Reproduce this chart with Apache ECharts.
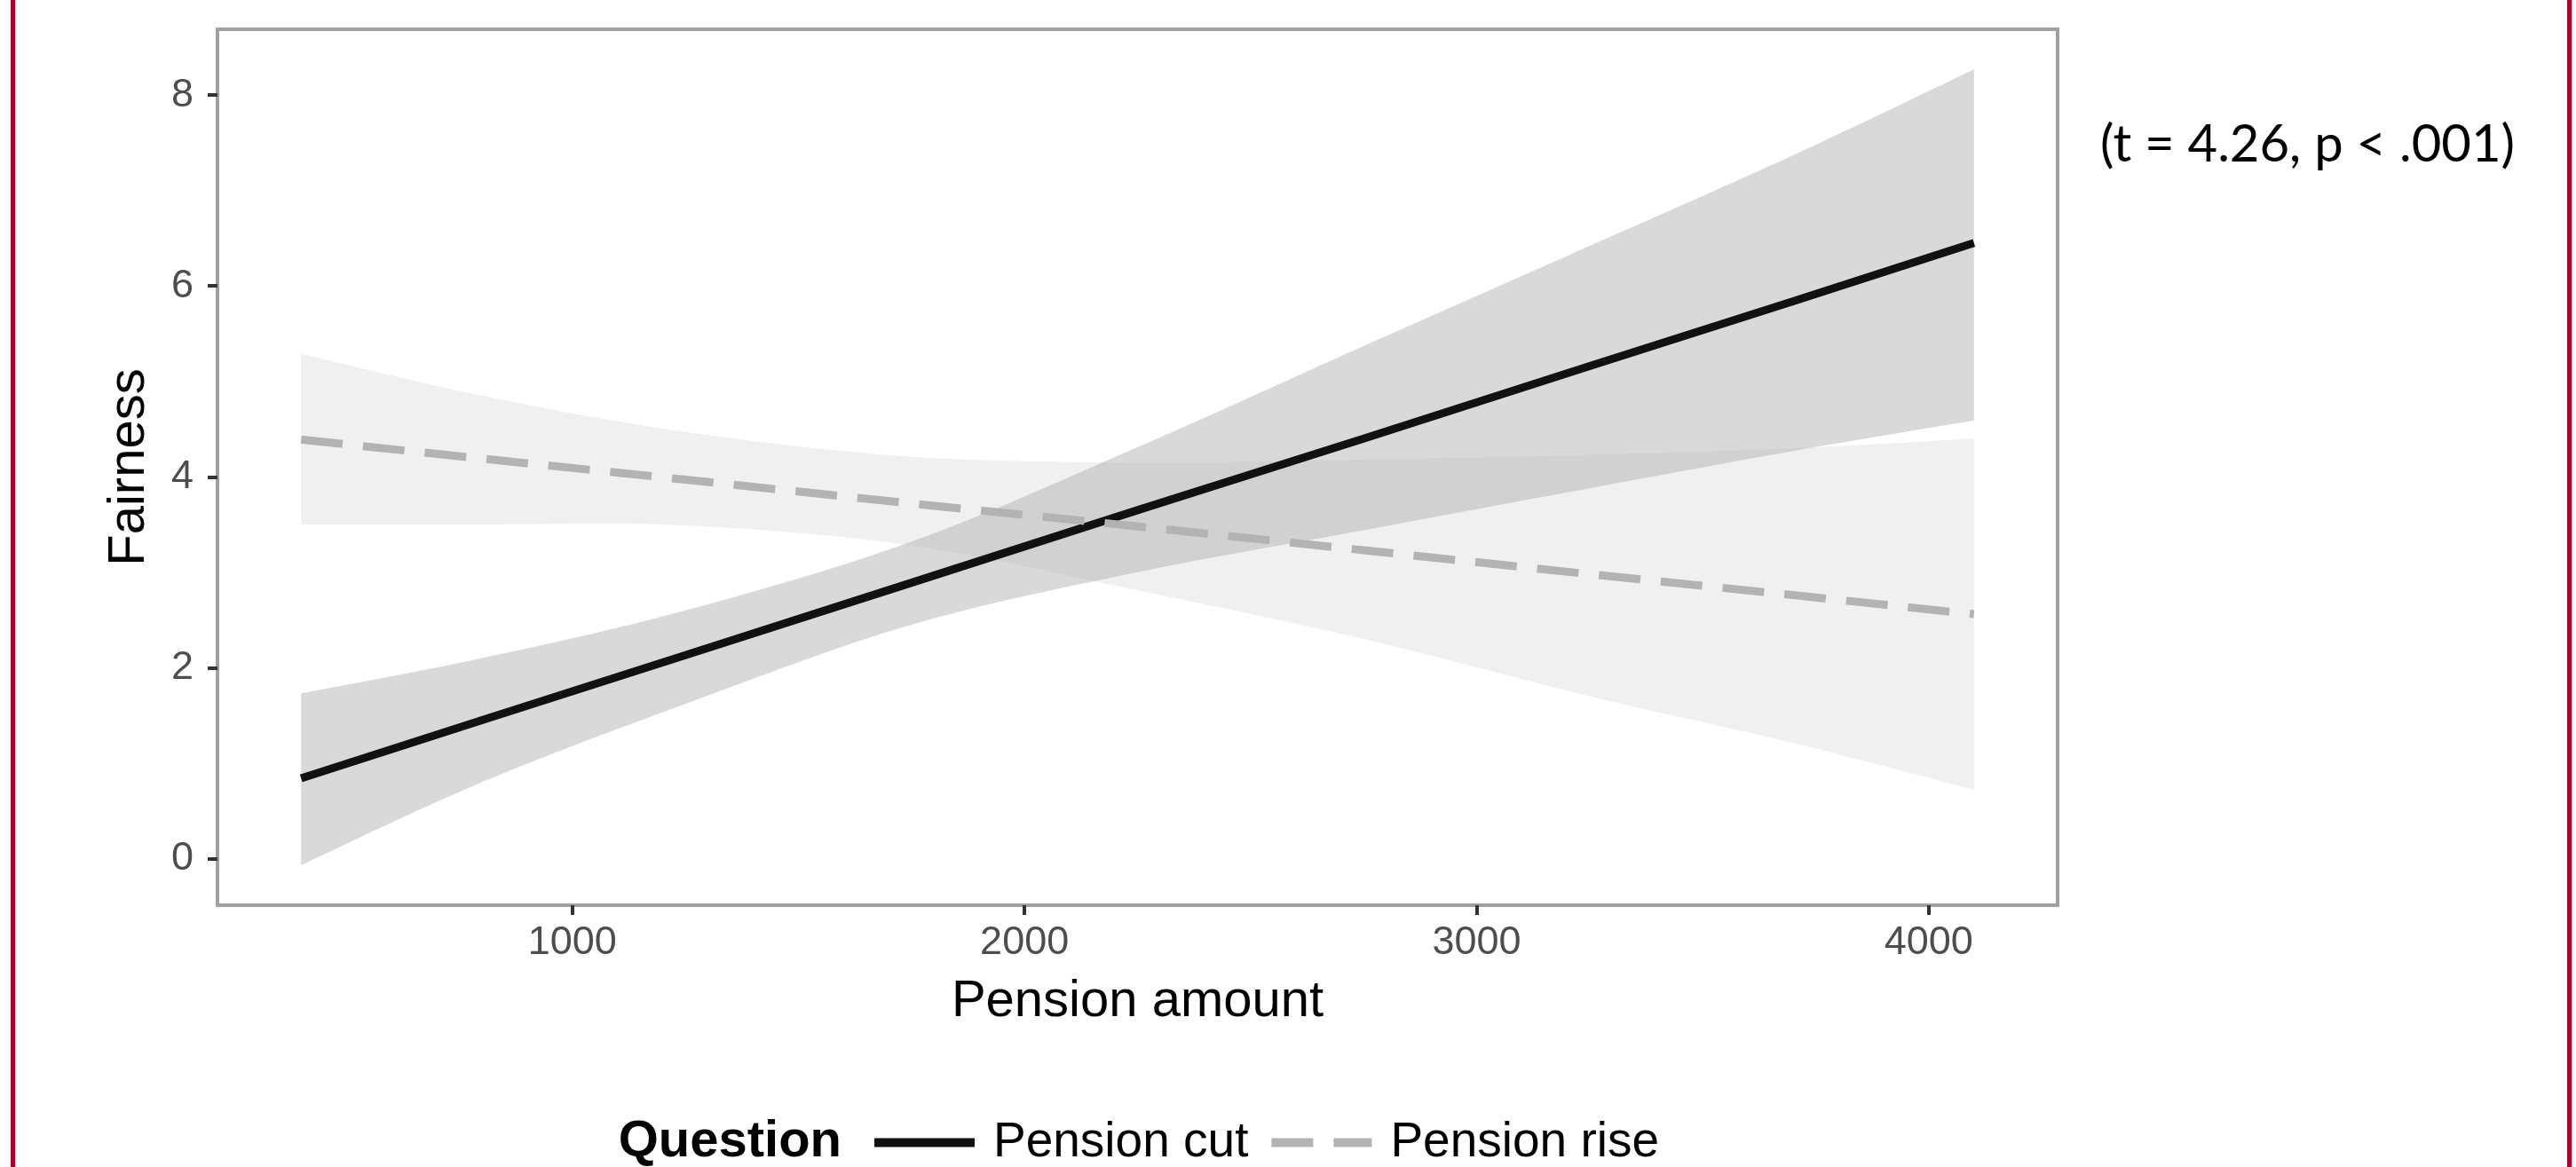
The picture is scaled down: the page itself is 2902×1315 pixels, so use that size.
<!DOCTYPE html>
<html>
<head>
<meta charset="utf-8">
<script src="https://cdn.jsdelivr.net/npm/echarts@6/dist/echarts.min.js"></script>
<style>
  html, body { margin: 0; padding: 0; background: #ffffff; }
  #chart { width: 2902px; height: 1315px; }
</style>
</head>
<body>
<div id="chart"></div>
<script>
// Pension amount at which the fitted values and confidence bands are given
const pensionAmount = [400, 800, 1250, 1750, 2250, 2750, 3250, 3700, 4100];

// "Pension cut" question: fitted fairness and its confidence band
const cutFit   = [0.84, 1.45, 2.13, 2.89, 3.65, 4.40, 5.16, 5.84, 6.45];
const cutUpper = [1.73, 2.10, 2.60, 3.32, 4.31, 5.37, 6.42, 7.37, 8.27];
const cutLower = [-0.07, 0.80, 1.62, 2.45, 3.00, 3.44, 3.88, 4.27, 4.59];

// "Pension rise" question: fitted fairness and its confidence band
const riseFit   = [4.39, 4.19, 3.97, 3.72, 3.48, 3.23, 2.98, 2.76, 2.56];
const riseUpper = [5.29, 4.85, 4.47, 4.21, 4.15, 4.18, 4.23, 4.30, 4.40];
const riseLower = [3.50, 3.50, 3.49, 3.28, 2.81, 2.30, 1.70, 1.21, 0.72];

// Axis ticks and texts
const xTicks = [1000, 2000, 3000, 4000];
const yTicks = [0, 2, 4, 6, 8];
const xTitle = 'Pension amount';
const yTitle = 'Fairness';
const legendTitle = 'Question';
const seriesNames = ['Pension cut', 'Pension rise'];
const statText = '(t = 4.26, p < .001)';

const pairs = (xs, ys) => xs.map((x, i) => [x, ys[i]]);

const FONT = '"Liberation Sans", Arial, Helvetica, sans-serif';

// Smooth an edge given in pixel coordinates (Catmull-Rom style cubic segments,
// flattened into short straight pieces for the polygon outline).
function smoothEdge(pts, steps) {
  const out = [pts[0]];
  for (let i = 0; i < pts.length - 1; i++) {
    const p0 = pts[Math.max(i - 1, 0)], p1 = pts[i], p2 = pts[i + 1], p3 = pts[Math.min(i + 2, pts.length - 1)];
    const c1 = [p1[0] + (p2[0] - p0[0]) / 6, p1[1] + (p2[1] - p0[1]) / 6];
    const c2 = [p2[0] - (p3[0] - p1[0]) / 6, p2[1] - (p3[1] - p1[1]) / 6];
    for (let s = 1; s <= steps; s++) {
      const t = s / steps, u = 1 - t;
      out.push([
        u * u * u * p1[0] + 3 * u * u * t * c1[0] + 3 * u * t * t * c2[0] + t * t * t * p2[0],
        u * u * u * p1[1] + 3 * u * u * t * c1[1] + 3 * u * t * t * c2[1] + t * t * t * p2[1]
      ]);
    }
  }
  return out;
}

// Confidence band as a filled polygon between the upper and lower edges
function bandSeries(id, lower, upper, fill) {
  return {
    type: 'custom', name: id, silent: true,
    data: pairs(pensionAmount, upper),
    encode: { x: 0, y: 1 },
    renderItem: function (params, api) {
      if (params.dataIndex !== 0) return null;
      const up = pensionAmount.map((x, i) => api.coord([x, upper[i]]));
      const lo = pensionAmount.map((x, i) => api.coord([x, lower[i]]));
      const points = smoothEdge(up, 16).concat(smoothEdge(lo.reverse(), 16));
      return { type: 'polygon', shape: { points: points }, style: { fill: fill, stroke: null } };
    }
  };
}

const chart = echarts.init(document.getElementById('chart'), null, { renderer: 'canvas' });

chart.setOption({
  backgroundColor: '#ffffff',
  animation: false,
  grid: {
    left: 245, top: 33, width: 2073, height: 987,
    show: true, borderColor: '#a0a0a0', borderWidth: 4, backgroundColor: 'transparent'
  },
  xAxis: {
    type: 'value', min: 215, max: 4285,
    name: xTitle, nameLocation: 'middle', nameGap: 80,
    nameTextStyle: { fontFamily: FONT, fontSize: 58, color: '#000000' },
    axisLine: { show: false, onZero: false },
    axisTick: { show: true, length: 11, customValues: xTicks, lineStyle: { color: '#333333', width: 4 } },
    axisLabel: {
      customValues: xTicks, margin: 20, fontFamily: FONT, fontSize: 45, color: '#4d4d4d',
      formatter: v => String(v)
    },
    splitLine: { show: false }
  },
  yAxis: {
    type: 'value', min: -0.49, max: 8.69,
    name: yTitle, nameLocation: 'middle', nameGap: 70, nameRotate: 90,
    nameTextStyle: { fontFamily: FONT, fontSize: 58, color: '#000000' },
    axisLine: { show: false, onZero: false },
    axisTick: { show: true, length: 11, customValues: yTicks, lineStyle: { color: '#333333', width: 4 } },
    axisLabel: {
      customValues: yTicks, margin: 27, fontFamily: FONT, fontSize: 45, color: '#4d4d4d',
      formatter: v => String(v)
    },
    splitLine: { show: false }
  },
  legend: {
    data: seriesNames,
    left: 975, top: 1255,
    itemWidth: 113, itemHeight: 30, itemGap: 21,
    lineStyle: { width: 10 },
    itemStyle: { opacity: 0 },
    textStyle: { fontFamily: FONT, fontSize: 55, color: '#000000', padding: [0, 0, 0, 16] },
    selectedMode: false
  },
  series: [
    bandSeries('cut-band', cutLower, cutUpper, 'rgba(0,0,0,0.15)'),
    {
      type: 'line', name: seriesNames[0],
      data: pairs(pensionAmount, cutFit),
      showSymbol: false, symbol: 'none', silent: true,
      lineStyle: { color: '#111111', width: 9, type: 'solid', cap: 'butt' },
      itemStyle: { color: '#111111' }
    },
    bandSeries('rise-band', riseLower, riseUpper, 'rgba(179,179,179,0.2)'),
    {
      type: 'line', name: seriesNames[1],
      data: pairs(pensionAmount, riseFit),
      showSymbol: false, symbol: 'none', silent: true,
      lineStyle: { color: '#b3b3b3', width: 9, type: [47, 23], cap: 'butt' },
      itemStyle: { color: '#b3b3b3' }
    }
  ],
  graphic: [
    // side rules of the figure panel
    { type: 'rect', left: 12, top: 0, shape: { width: 5, height: 1315 }, style: { fill: '#a8002b' }, silent: true },
    { type: 'rect', left: 2892, top: 0, shape: { width: 5, height: 1315 }, style: { fill: '#a8002b' }, silent: true },
    {
      type: 'text', x: 948, y: 1287, silent: true,
      style: { text: legendTitle, fontFamily: FONT, fontWeight: 'bold', fontSize: 58, fill: '#000000', align: 'right', verticalAlign: 'middle' }
    },
    {
      type: 'text', x: 2366, y: 163, silent: true,
      style: { text: statText, fontFamily: 'Lato, "Open Sans", sans-serif', fontSize: 58, fill: '#000000', align: 'left', verticalAlign: 'middle' }
    }
  ]
});
</script>
</body>
</html>
